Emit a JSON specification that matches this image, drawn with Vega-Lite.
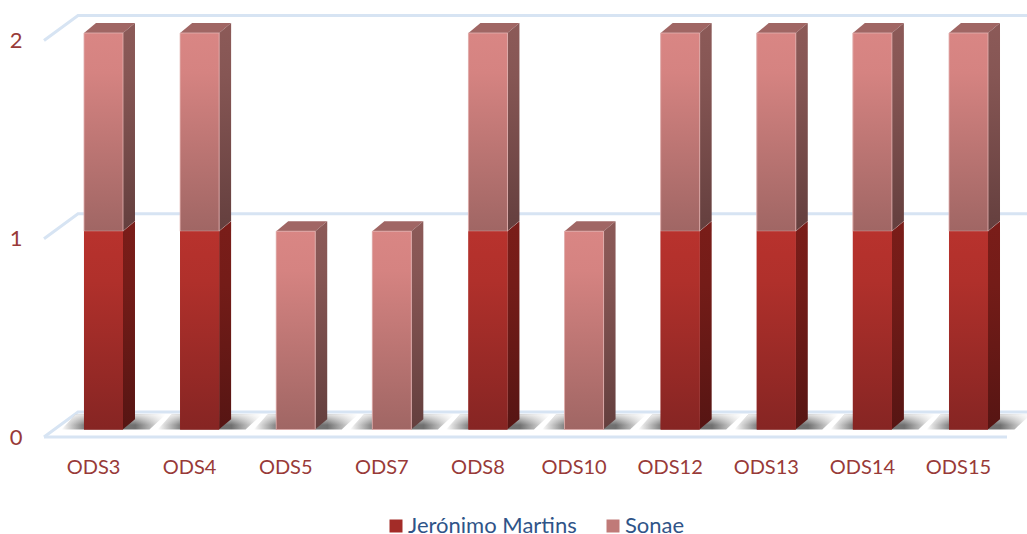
{
"$schema":"https://vega.github.io/schema/vega-lite/v6.json",
"width":1027,"height":534,"padding":0,"autosize":{"type":"none"},
"background":"white",
"config":{"view":{"stroke":null},"font":"Lato"},
"resolve":{"axis":{"x":"independent","y":"independent"}},
"datasets":{
"bars":[
{"ods":"ODS3","serie":"Jerónimo Martins","value":1},{"ods":"ODS3","serie":"Sonae","value":1},
{"ods":"ODS4","serie":"Jerónimo Martins","value":1},{"ods":"ODS4","serie":"Sonae","value":1},
{"ods":"ODS5","serie":"Sonae","value":1},
{"ods":"ODS7","serie":"Sonae","value":1},
{"ods":"ODS8","serie":"Jerónimo Martins","value":1},{"ods":"ODS8","serie":"Sonae","value":1},
{"ods":"ODS10","serie":"Sonae","value":1},
{"ods":"ODS12","serie":"Jerónimo Martins","value":1},{"ods":"ODS12","serie":"Sonae","value":1},
{"ods":"ODS13","serie":"Jerónimo Martins","value":1},{"ods":"ODS13","serie":"Sonae","value":1},
{"ods":"ODS14","serie":"Jerónimo Martins","value":1},{"ods":"ODS14","serie":"Sonae","value":1},
{"ods":"ODS15","serie":"Jerónimo Martins","value":1},{"ods":"ODS15","serie":"Sonae","value":1}
],
"grid":[{"level":0},{"level":1},{"level":2}]
},
"layer":[
{"data":{"name":"grid"},
 "mark":{"type":"point","shape":"M-469.5,7.5 L-435.5,-17.5 L513.5,-17.5","filled":false,"stroke":"#d7e4f3","strokeWidth":3,"opacity":1,"size":4,"clip":false},
 "encoding":{"y":{"field":"level","type":"quantitative","scale":{"domain":[0,2],"range":[429.5,33]},"axis":null}}},
{"data":{"name":"grid"},
 "transform":[{"filter":"datum.level==0"}],
 "mark":{"type":"point","shape":"M-469.5,7.5 L493.5,7.5","filled":false,"stroke":"#d7e4f3","strokeWidth":3,"opacity":1,"size":4},
 "encoding":{"y":{"field":"level","type":"quantitative","axis":null}}},
{"data":{"name":"grid"},
 "mark":{"type":"text","align":"right","baseline":"middle","dx":-491,"dy":8,"font":"Lato","fontSize":22,"color":"#983a38"},
 "encoding":{"y":{"field":"level","type":"quantitative","axis":null},"text":{"field":"level","type":"quantitative","format":"d"}}},
{"data":{"name":"bars"},
 "transform":[{"stack":"value","groupby":["ods"],"sort":[{"field":"serie","order":"ascending"}],"as":["y0","y1"]},{"filter":"datum.y0==0"}],
 "mark":{"type":"point","shape":"M-42,0 L-28,-15 L62,-15 L46,0 Z","filled":true,"opacity":1,"size":4,"strokeWidth":0,
  "fill":{"gradient":"linear","x1":0,"y1":0,"x2":1,"y2":0,"stops":[{"offset":0,"color":"#ffffff"},{"offset":0.22,"color":"#808080"},{"offset":0.71,"color":"#707070"},{"offset":1,"color":"#ffffff"}]}},
 "encoding":{"x":{"field":"ods","type":"nominal","axis":null,"scale":{"domain":["ODS3","ODS4","ODS5","ODS7","ODS8","ODS10","ODS12","ODS13","ODS14","ODS15"],"range":[55.44,1016.56],"paddingInner":0.594,"paddingOuter":0.297}},
  "y":{"datum":0,"type":"quantitative","axis":null}}},
{"data":{"name":"bars"},
 "transform":[{"stack":"value","groupby":["ods"],"sort":[{"field":"serie","order":"ascending"}],"as":["y0","y1"]},{"filter":"datum.y0==0"}],
 "mark":{"type":"point","shape":"M-42,0 L-28,-15 L62,-15 L46,0 Z","filled":true,"opacity":1,"size":4,"strokeWidth":0,
  "fill":{"gradient":"linear","x1":0,"y1":0,"x2":0,"y2":1,"stops":[{"offset":0,"color":"rgba(255,255,255,0.8)"},{"offset":0.7,"color":"rgba(255,255,255,0)"},{"offset":1,"color":"rgba(255,255,255,0)"}]}},
 "encoding":{"x":{"field":"ods","type":"nominal","axis":null},"y":{"datum":0,"type":"quantitative","axis":null}}},
{"data":{"name":"bars"},
 "transform":[{"stack":"value","groupby":["ods"],"sort":[{"field":"serie","order":"ascending"}],"as":["y0","y1"]},{"filter":"datum.serie=='Sonae'"}],
 "mark":{"type":"point","shape":"M-19.5,0 L-7.5,-10 L31.5,-10 L19.5,0 Z","filled":true,"opacity":1,"size":4,"strokeWidth":0,"fill":"#a06664"},
 "encoding":{"x":{"field":"ods","type":"nominal","axis":null},"y":{"field":"y1","type":"quantitative","axis":null}}},
{"data":{"name":"bars"},
 "transform":[{"stack":"value","groupby":["ods"],"sort":[{"field":"serie","order":"ascending"}],"as":["y0","y1"]},{"filter":"datum.serie=='Sonae'"}],
 "mark":{"type":"point","shape":"M19.5,0 L31.5,-10 L31.5,188 L19.5,198 Z","filled":true,"opacity":1,"size":4,"strokeWidth":0,
  "fill":{"gradient":"linear","x1":0,"y1":0,"x2":0,"y2":1,"stops":[{"offset":0,"color":"#8c5a58"},{"offset":0.25,"color":"#865654"},{"offset":1,"color":"#643f3e"}]}},
 "encoding":{"x":{"field":"ods","type":"nominal","axis":null},"y":{"field":"y1","type":"quantitative","axis":null}}},
{"data":{"name":"bars"},
 "transform":[{"stack":"value","groupby":["ods"],"sort":[{"field":"serie","order":"ascending"}],"as":["y0","y1"]},{"filter":"datum.serie!='Sonae'"}],
 "mark":{"type":"point","shape":"M19.5,0 L31.5,-10 L31.5,188 L19.5,198 Z","filled":true,"opacity":1,"size":4,"strokeWidth":0,
  "fill":{"gradient":"linear","x1":0,"y1":0,"x2":0,"y2":1,"stops":[{"offset":0,"color":"#7a1d19"},{"offset":0.3,"color":"#741c18"},{"offset":1,"color":"#561513"}]}},
 "encoding":{"x":{"field":"ods","type":"nominal","axis":null},"y":{"field":"y1","type":"quantitative","axis":null}}},
{"data":{"name":"bars"},
 "transform":[{"stack":"value","groupby":["ods"],"sort":[{"field":"serie","order":"ascending"}],"as":["y0","y1"]}],
 "mark":{"type":"bar"},
 "encoding":{
  "x":{"field":"ods","type":"nominal","sort":null,"axis":{"title":null,"domain":false,"ticks":false,"grid":false,"labelAngle":0,"labelFont":"Lato","labelFontSize":20,"labelColor":"#983a38","labelPadding":0,"labelOffset":-10,"offset":-77}},
  "y":{"field":"y0","type":"quantitative","axis":null},
  "y2":{"field":"y1"},
  "fill":{"field":"serie","type":"nominal",
   "scale":{"domain":["Jerónimo Martins","Sonae"],"range":["#a32c28","#c07a78"]},
   "legend":{"title":null,"orient":"none","legendX":385,"legendY":515,"direction":"horizontal","symbolType":"square","symbolSize":169,"symbolStrokeWidth":0,"labelFont":"Lato","labelFontSize":22,"labelColor":"#2f5488","labelOffset":1,"labelLimit":400,"columnPadding":25}}}},
{"data":{"name":"bars"},
 "transform":[{"stack":"value","groupby":["ods"],"sort":[{"field":"serie","order":"ascending"}],"as":["y0","y1"]},{"filter":"datum.serie=='Sonae'"}],
 "mark":{"type":"bar","stroke":"#e3b4b2","strokeWidth":0.8,
  "fill":{"gradient":"linear","x1":0,"y1":0,"x2":0,"y2":1,"stops":[{"offset":0,"color":"#d98684"},{"offset":0.2,"color":"#d58381"},{"offset":1,"color":"#a06664"}]}},
 "encoding":{"x":{"field":"ods","type":"nominal","axis":null},"y":{"field":"y0","type":"quantitative","axis":null},"y2":{"field":"y1"}}},
{"data":{"name":"bars"},
 "transform":[{"stack":"value","groupby":["ods"],"sort":[{"field":"serie","order":"ascending"}],"as":["y0","y1"]},{"filter":"datum.serie!='Sonae'"}],
 "mark":{"type":"bar",
  "fill":{"gradient":"linear","x1":0,"y1":0,"x2":0,"y2":1,"stops":[{"offset":0,"color":"#b8322d"},{"offset":0.25,"color":"#b0302b"},{"offset":1,"color":"#862523"}]}},
 "encoding":{"x":{"field":"ods","type":"nominal","axis":null},"y":{"field":"y0","type":"quantitative","axis":null},"y2":{"field":"y1"}}}
]
}
